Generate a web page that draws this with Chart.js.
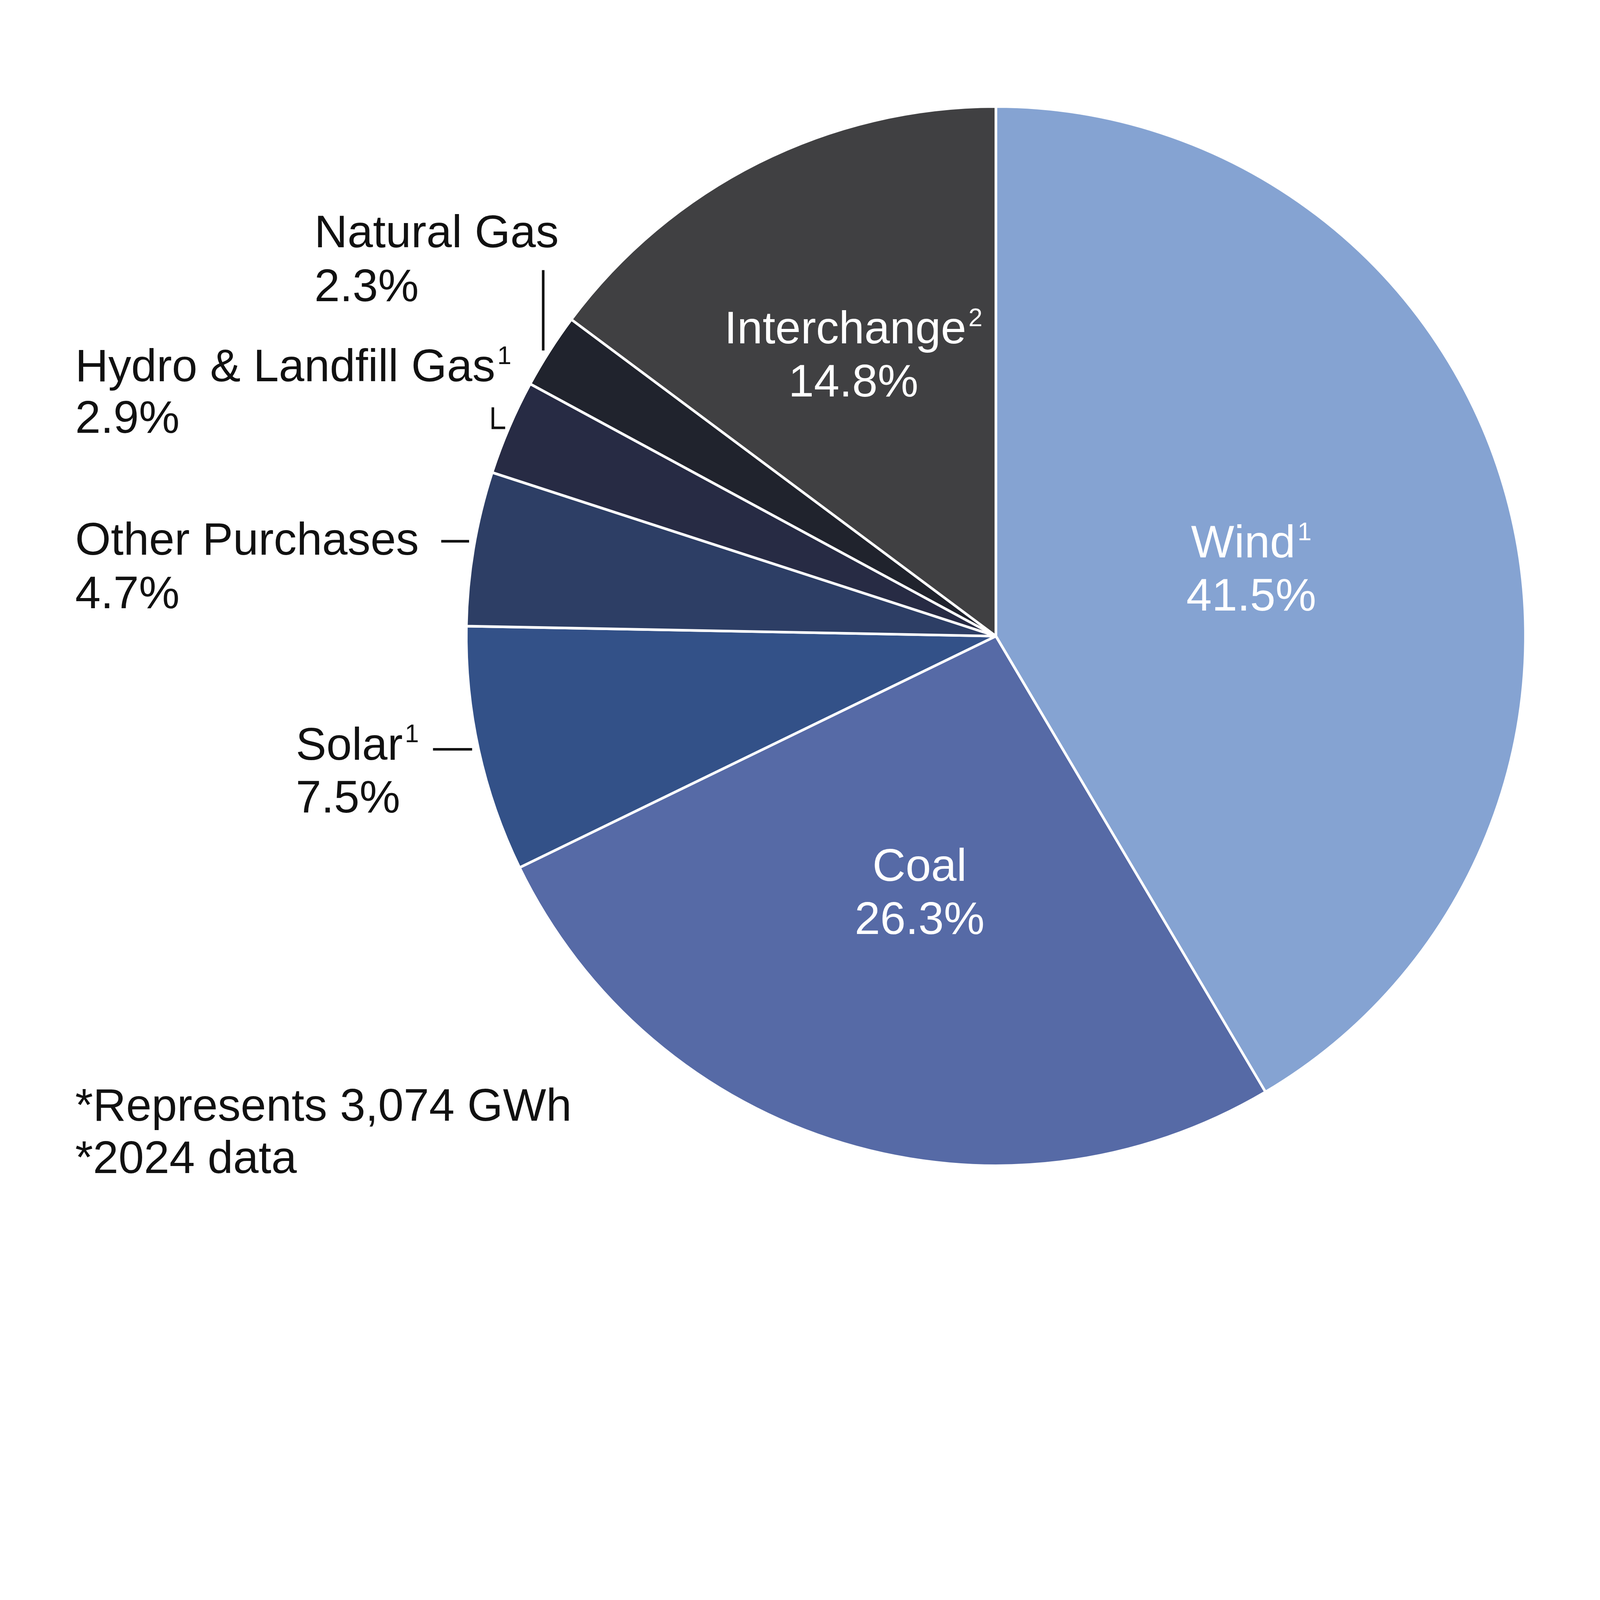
<!DOCTYPE html>
<html><head><meta charset="utf-8">
<script src="https://cdn.jsdelivr.net/npm/chart.js@4/dist/chart.umd.min.js"></script>
<style>html,body{margin:0;padding:0;background:#fff;overflow:hidden}canvas{display:block}</style>
</head><body>
<canvas id="c"></canvas>
<script>
const categories = ["Wind","Coal","Solar","Other Purchases","Hydro & Landfill Gas","Natural Gas","Interchange"];
const superscripts = ["1","","1","","1","","2"];
const values = [41.5, 26.3, 7.5, 4.7, 2.9, 2.3, 14.8];
const colors = ["#85A3D2","#566AA6","#335188","#2D3E65","#272B44","#20232D","#404042"];
const FONT = '"Liberation Sans", Arial, sans-serif';

const W = window.innerWidth || 7405, H = window.innerHeight || 5781;
const s = Math.min(W/7405, H/5781);
const cv = document.getElementById('c');
cv.width = W; cv.height = H; cv.style.width = W+'px'; cv.style.height = H+'px';
const FS = 212*s;

function textSup(ctx, txt, sup, x, y, align){
  ctx.font = FS + 'px ' + FONT;
  const w = ctx.measureText(txt).width;
  ctx.font = (FS*0.55) + 'px ' + FONT;
  const ws = sup ? ctx.measureText(sup).width + 10*s : 0;
  let sx = align === 'center' ? x - (w+ws)/2 : x;
  ctx.textAlign = 'left';
  ctx.font = FS + 'px ' + FONT;
  ctx.fillText(txt, sx, y);
  if (sup){ ctx.font = (FS*0.55) + 'px ' + FONT; ctx.fillText(sup, sx+w+10*s, y-FS*0.38); }
}

const labelPlugin = {
  id:'labels',
  afterDraw(chart){
    const ctx = chart.ctx;
    const meta = chart.getDatasetMeta(0);
    ctx.save();
    ctx.textBaseline = 'alphabetic';
    [0,1,6].forEach(i=>{
      const a = meta.data[i];
      const mid = (a.startAngle + a.endAngle)/2;
      const rr = i===6 ? a.outerRadius*0.6 : a.outerRadius*0.5;
      const x = a.x + Math.cos(mid)*rr, y = a.y + Math.sin(mid)*rr;
      ctx.fillStyle = '#ffffff';
      textSup(ctx, categories[i], superscripts[i], x, y - 40*s, 'center');
      ctx.font = FS + 'px ' + FONT; ctx.textAlign='center';
      ctx.fillText(values[i].toFixed(1)+'%', x, y + 205*s);
    });
    ctx.fillStyle = '#111111';
    const outs = [[5,1455,1145,1393],[4,348,1765,2004],[3,348,2567,2815],[2,1369,3516,3760]];
    outs.forEach(([i,x,y1,y2])=>{
      textSup(ctx, categories[i], superscripts[i], x*s, y1*s, 'left');
      ctx.font = FS+'px '+FONT; ctx.textAlign='left';
      ctx.fillText(values[i].toFixed(1)+'%', x*s, y2*s);
    });
    ctx.fillText('*Represents 3,074 GWh', 348*s, 5186*s);
    ctx.fillText('*2024 data', 348*s, 5429*s);
    ctx.strokeStyle = '#111111'; ctx.lineWidth = 12*s;
    const L = (pts)=>{ ctx.moveTo(pts[0]*s,pts[1]*s); for(let k=2;k<pts.length;k+=2) ctx.lineTo(pts[k]*s,pts[k+1]*s); };
    ctx.beginPath();
    L([2514,1250,2514,1622]);
    L([2281,1885,2281,1980,2338,1980]);
    L([2042,2505,2171,2505]);
    L([2004,3468,2185,3468]);
    ctx.stroke();
    ctx.restore();
  }
};

new Chart(cv, {
  type:'pie',
  data:{ labels:categories, datasets:[{ data:values, backgroundColor:colors, borderColor:'#ffffff', borderWidth:12*s }] },
  options:{
    responsive:false, animation:false, devicePixelRatio:1,
    layout:{ padding:{ left:2152*s, right:W-4609*s-2457*s, top:487*s, bottom:H-2944*s-2457*s } },
    plugins:{ legend:{display:false}, tooltip:{enabled:false} }
  },
  plugins:[labelPlugin]
});
</script>
</body></html>
